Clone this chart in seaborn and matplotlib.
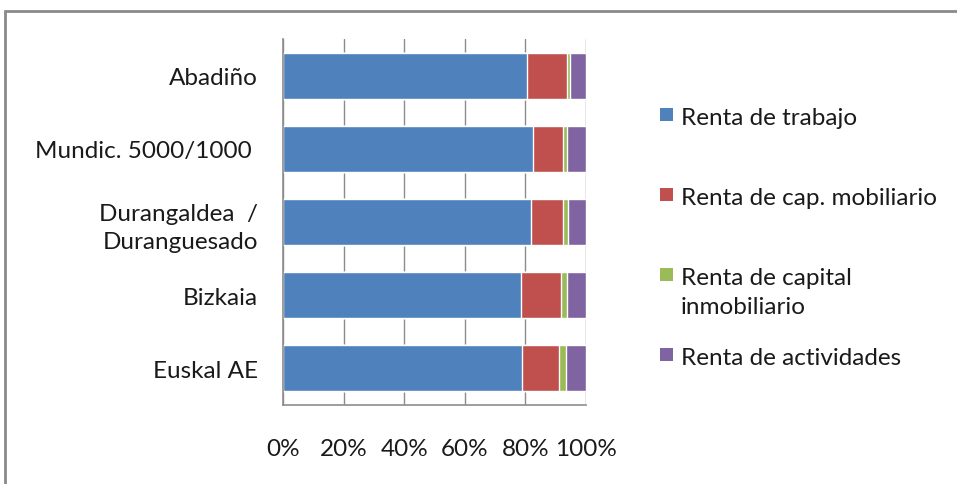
import numpy as np
import pandas as pd
import seaborn as sns
import matplotlib
from matplotlib import pyplot as plt
from matplotlib.patches import Rectangle

matplotlib.use('Agg')

FONT = 'Lato'
FONT_SIZE = 17.5
GRID = '#8c8c8c'
TEXT = '#1a1a1a'
W, H = 957, 485

categories = ['Abadiño', 'Mundic. 5000/1000 ', 'Durangaldea  /\nDuranguesado', 'Bizkaia', 'Euskal AE']
series = ['Renta de trabajo', 'Renta de cap. mobiliario',
          'Renta de capital\ninmobiliario', 'Renta de actividades']
colors = ['#4F81BD', '#C0504D', '#9BBB59', '#8064A2']

# shares (%)
trabajo = [80.6, 82.4, 81.9, 78.5, 78.9]
mobiliario = [13.2, 10.1, 10.6, 13.1, 12.3]
inmobiliario = [0.8, 1.2, 1.7, 2.1, 2.1]
actividades = [5.4, 6.3, 5.8, 6.3, 6.7]

sns.set_theme(style='white')
plt.rcParams['font.family'] = [FONT, 'DejaVu Sans']

df = pd.DataFrame({'zona': categories, series[0]: trabajo, series[1]: mobiliario,
                   series[2]: inmobiliario, series[3]: actividades})
vals = df[series].to_numpy()
cum = np.cumsum(vals, axis=1)
cum = cum / cum[:, -1:] * 100

fig = plt.figure(figsize=(W / 100, H / 100), dpi=100)
ax = fig.add_axes([283 / W, 1 - 406 / H, 303 / W, 366 / H])

# stacked bars: draw cumulative totals from the largest down
for i in range(len(series) - 1, -1, -1):
    sns.barplot(x=cum[:, i], y=df['zona'], orient='h', color=colors[i],
                width=0.63, saturation=1, ax=ax, zorder=2)

ax.set_xlim(0, 100)
ax.set_ylim(len(categories) - 0.5, -0.5)
ax.set_xticks(np.arange(0, 101, 20))
ax.set_xticklabels([f'{t}%' for t in range(0, 101, 20)])
ax.xaxis.grid(True, color=GRID, lw=1, zorder=0)
ax.set_axisbelow(True)
ax.set_xlabel('')
ax.set_ylabel('')
ax.tick_params(axis='x', length=0, pad=24, labelsize=FONT_SIZE, colors=TEXT)
ax.tick_params(axis='y', length=0, pad=18, labelsize=FONT_SIZE, colors=TEXT)
for lab in ax.get_yticklabels():
    lab.set_linespacing(1.4)
for s in ['top', 'right']:
    ax.spines[s].set_visible(False)
for s in ['left', 'bottom']:
    ax.spines[s].set_color(GRID)
    ax.spines[s].set_linewidth(1.2)

# legend like Excel: entries evenly spaced by their first line
for i, (lab, c) in enumerate(zip(series, colors)):
    yc = 115 + 80 * i
    fig.patches.append(Rectangle((660 / W, 1 - (yc + 6.5) / H), 13 / W, 13 / H,
                                 transform=fig.transFigure, facecolor=c, edgecolor='none'))
    fig.text(681 / W, 1 - (yc - 7) / H, lab, ha='left', va='top', fontsize=FONT_SIZE,
             color=TEXT, linespacing=1.45)

fig.patches.append(Rectangle((5 / W, -0.05), 1.1, 1 - 12 / H + 0.05, transform=fig.transFigure,
                             fill=False, edgecolor='#8a8a8a', lw=2))

fig.savefig('out.png', dpi=100)
